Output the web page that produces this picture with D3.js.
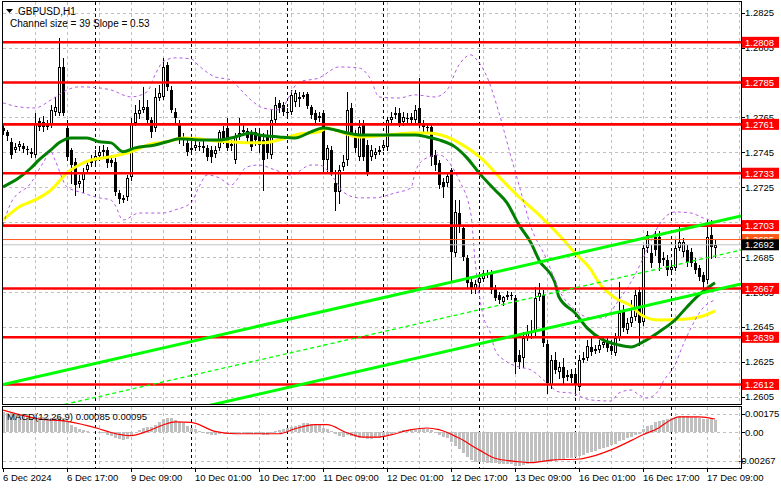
<!DOCTYPE html>
<html><head><meta charset="utf-8">
<script src="https://cdn.jsdelivr.net/npm/d3@7"></script>
<style>
html,body{margin:0;padding:0;background:#fff;}
svg{display:block;font-family:"Liberation Sans",Arial,sans-serif;}
</style></head><body>
<svg id="c" width="781" height="489"></svg>
<script>
// ---- candle data, GBPUSD H1, bar 0 = 6 Dec 2024 01:00 ----
const opens=[1.27589,1.27567,1.27510,1.27464,1.27481,1.27487,1.27469,1.27453,1.27435,1.27629,
1.27624,1.27601,1.27612,1.27682,1.27676,1.27939,1.27589,1.27464,1.27395,1.27269,
1.27292,1.27349,1.27389,1.27400,1.27429,1.27453,1.27464,1.27406,1.27395,1.27217,
1.27177,1.27194,1.27309,1.27618,1.27670,1.27693,1.27710,1.27635,1.27589,1.27761,
1.27767,1.27951,1.27807,1.27682,1.27618,1.27521,1.27504,1.27464,1.27475,1.27487,
1.27481,1.27475,1.27464,1.27441,1.27475,1.27572,1.27589,1.27487,1.27406,1.27538,
1.27567,1.27572,1.27561,1.27567,1.27549,1.27521,1.27549,1.27435,1.27635,1.27733,
1.27721,1.27682,1.27682,1.27739,1.27756,1.27773,1.27784,1.27710,1.27676,1.27659,
1.27676,1.27406,1.27464,1.27275,1.27223,1.27366,1.27406,1.27704,1.27561,1.27424,
1.27606,1.27492,1.27424,1.27435,1.27458,1.27475,1.27481,1.27635,1.27664,1.27676,
1.27624,1.27647,1.27653,1.27635,1.27704,1.27618,1.27595,1.27595,1.27435,1.27389,
1.27280,1.27275,1.27349,1.26874,1.27102,1.27016,1.26845,1.26708,1.26667,1.26702,
1.26724,1.26753,1.26759,1.26673,1.26632,1.26593,1.26621,1.26632,1.26615,1.26289,
1.26272,1.26392,1.26421,1.26421,1.26621,1.26632,1.26352,1.26117,1.26260,1.26191,
1.26220,1.26163,1.26180,1.26180,1.26106,1.26260,1.26272,1.26335,1.26318,1.26318,
1.26346,1.26364,1.26341,1.26301,1.26386,1.26535,1.26432,1.26472,1.26507,1.26650,
1.26478,1.26902,1.26874,1.26965,1.26965,1.26845,1.26833,1.26776,1.26787,1.26902,
1.26879,1.26891,1.26879,1.26816,1.26787,1.26747,1.26719,1.26977,1.26902];
const highs=[1.27612,1.27578,1.27532,1.27504,1.27515,1.27504,1.27487,1.27475,1.27676,1.27647,
1.27659,1.27635,1.27721,1.27767,1.28105,1.27991,1.27635,1.27475,1.27418,1.27320,
1.27360,1.27406,1.27435,1.27464,1.27487,1.27492,1.27481,1.27435,1.27418,1.27234,
1.27205,1.27320,1.27647,1.27721,1.27750,1.27825,1.27750,1.27653,1.27819,1.27836,
1.27991,1.27968,1.27830,1.27704,1.27635,1.27561,1.27538,1.27504,1.27521,1.27510,
1.27515,1.27492,1.27487,1.27487,1.27578,1.27601,1.27647,1.27521,1.27561,1.27647,
1.27606,1.27589,1.27578,1.27589,1.27589,1.27561,1.27578,1.27693,1.27767,1.27750,
1.27739,1.27704,1.27807,1.27807,1.27796,1.27796,1.27796,1.27721,1.27693,1.27682,
1.27693,1.27492,1.27487,1.27349,1.27377,1.27435,1.27796,1.27733,1.27578,1.27635,
1.27635,1.27521,1.27492,1.27475,1.27487,1.27515,1.27653,1.27682,1.27710,1.27704,
1.27682,1.27676,1.27676,1.27721,1.27876,1.27635,1.27618,1.27612,1.27464,1.27406,
1.27304,1.27338,1.27360,1.27177,1.27177,1.27034,1.26862,1.26730,1.26719,1.26753,
1.26776,1.26776,1.26776,1.26690,1.26650,1.26627,1.26656,1.26650,1.26632,1.26318,
1.26421,1.26461,1.26489,1.26678,1.26702,1.26661,1.26375,1.26289,1.26306,1.26249,
1.26272,1.26203,1.26209,1.26203,1.26289,1.26306,1.26375,1.26386,1.26346,1.26375,
1.26386,1.26386,1.26375,1.26415,1.26708,1.26575,1.26501,1.26604,1.26661,1.26678,
1.26919,1.26999,1.26919,1.26999,1.26999,1.26879,1.26862,1.26822,1.26948,1.27034,
1.26960,1.26919,1.26902,1.26845,1.26804,1.26764,1.27062,1.27062,1.26948];
const lows=[1.27555,1.27521,1.27418,1.27453,1.27464,1.27453,1.27441,1.27424,1.27424,1.27578,
1.27572,1.27583,1.27595,1.27664,1.27664,1.27664,1.27406,1.27275,1.27205,1.27252,
1.27223,1.27338,1.27372,1.27383,1.27406,1.27429,1.27366,1.27372,1.27205,1.27160,
1.27166,1.27177,1.27292,1.27606,1.27647,1.27682,1.27624,1.27538,1.27572,1.27750,
1.27756,1.27807,1.27682,1.27624,1.27504,1.27492,1.27435,1.27447,1.27464,1.27464,
1.27453,1.27406,1.27395,1.27424,1.27464,1.27504,1.27464,1.27464,1.27389,1.27527,
1.27549,1.27515,1.27464,1.27492,1.27453,1.27234,1.27418,1.27418,1.27624,1.27682,
1.27664,1.27659,1.27670,1.27716,1.27716,1.27761,1.27704,1.27647,1.27618,1.27629,
1.27332,1.27332,1.27320,1.27120,1.27160,1.27349,1.27377,1.27544,1.27453,1.27406,
1.27406,1.27320,1.27406,1.27418,1.27441,1.27464,1.27464,1.27612,1.27647,1.27601,
1.27606,1.27624,1.27618,1.27624,1.27595,1.27572,1.27567,1.27377,1.27349,1.27246,
1.27194,1.27257,1.26708,1.26856,1.26994,1.26833,1.26678,1.26644,1.26644,1.26673,
1.26713,1.26736,1.26644,1.26604,1.26587,1.26575,1.26610,1.26610,1.26186,1.26214,
1.26220,1.26375,1.26386,1.26404,1.26604,1.26341,1.26071,1.26100,1.26186,1.26157,
1.26128,1.26146,1.26134,1.26060,1.26088,1.26249,1.26260,1.26289,1.26301,1.26306,
1.26335,1.26312,1.26295,1.26289,1.26375,1.26427,1.26415,1.26455,1.26489,1.26346,
1.26461,1.26879,1.26793,1.26862,1.26776,1.26805,1.26747,1.26759,1.26776,1.26891,
1.26856,1.26799,1.26799,1.26759,1.26719,1.26650,1.26702,1.26845,1.26850];
const closes=[1.27572,1.27544,1.27435,1.27481,1.27498,1.27469,1.27464,1.27441,1.27618,1.27595,
1.27595,1.27606,1.27693,1.27710,1.27939,1.27676,1.27424,1.27377,1.27263,1.27286,
1.27338,1.27377,1.27400,1.27429,1.27453,1.27464,1.27389,1.27389,1.27223,1.27183,
1.27189,1.27304,1.27618,1.27676,1.27693,1.27710,1.27635,1.27567,1.27767,1.27790,
1.27939,1.27825,1.27693,1.27647,1.27521,1.27532,1.27453,1.27475,1.27492,1.27481,
1.27487,1.27424,1.27424,1.27464,1.27567,1.27521,1.27475,1.27498,1.27538,1.27561,
1.27578,1.27532,1.27481,1.27521,1.27492,1.27406,1.27447,1.27635,1.27721,1.27704,
1.27682,1.27676,1.27779,1.27790,1.27767,1.27779,1.27716,1.27664,1.27635,1.27647,
1.27406,1.27475,1.27332,1.27223,1.27349,1.27395,1.27693,1.27561,1.27475,1.27595,
1.27424,1.27332,1.27464,1.27453,1.27464,1.27492,1.27635,1.27653,1.27676,1.27618,
1.27653,1.27641,1.27635,1.27693,1.27618,1.27595,1.27589,1.27424,1.27377,1.27263,
1.27252,1.27315,1.26880,1.27108,1.27022,1.26850,1.26702,1.26673,1.26696,1.26730,
1.26759,1.26759,1.26661,1.26615,1.26604,1.26621,1.26632,1.26627,1.26249,1.26249,
1.26386,1.26421,1.26415,1.26615,1.26644,1.26358,1.26128,1.26260,1.26203,1.26220,
1.26157,1.26174,1.26157,1.26117,1.26260,1.26272,1.26341,1.26306,1.26323,1.26346,
1.26364,1.26329,1.26312,1.26386,1.26530,1.26444,1.26472,1.26507,1.26632,1.26472,
1.26902,1.26977,1.26816,1.26891,1.26816,1.26833,1.26776,1.26793,1.26902,1.26937,
1.26937,1.26822,1.26816,1.26776,1.26736,1.26707,1.26965,1.26908,1.26919];

// ---- moving averages (bar index, price) ----
const yellowIdx=[0,4,8,12,16,19,22,27,32,37,41,45,49,53,57,62,65,69,74,79,81,85,89,94,102,106,111,114,120,124,129,134,139,143,147,149,153,157,160,164,171,175,178];
const yellowVal=[1.27062,1.27137,1.27177,1.27234,1.27332,1.27377,1.27406,1.27424,1.27453,1.27498,1.27510,1.27532,1.27527,1.27515,1.27510,1.27504,1.27504,1.27521,1.27555,1.27567,1.27589,1.27561,1.27538,1.27544,1.27561,1.27561,1.27538,1.27504,1.27406,1.27309,1.27194,1.27091,1.26976,1.26873,1.26776,1.26702,1.26616,1.26570,1.26512,1.26489,1.26495,1.26512,1.26541];
const greenIdx=[0,4,7,9,12,14,17,21,24,27,30,33,38,41,44,49,54,58,62,64,69,73,77,80,83,86,89,96,103,106,109,113,116,119,123,126,129,132,134,138,139,143,146,150,154,157,160,164,168,171,174,178];
const greenVal=[1.27252,1.27304,1.27360,1.27406,1.27464,1.27504,1.27532,1.27532,1.27510,1.27504,1.27453,1.27475,1.27492,1.27510,1.27527,1.27521,1.27521,1.27538,1.27561,1.27549,1.27538,1.27532,1.27567,1.27589,1.27578,1.27561,1.27549,1.27549,1.27549,1.27538,1.27521,1.27481,1.27418,1.27332,1.27234,1.27160,1.27034,1.26931,1.26833,1.26702,1.26621,1.26530,1.26444,1.26375,1.26346,1.26335,1.26364,1.26421,1.26489,1.26564,1.26633,1.26702];
// ---- envelope bands (dashed violet) ----
const upIdx=[0,4,8,12,16,19,24,27,32,36,38,40,43,47,49,53,57,59,62,65,69,74,79,84,89,92,94,99,103,108,111,114,117,118,121,124,127,129,132,136,139,143,147,150,154,158,161,164,168,172,175,178];
const upVal=[1.27733,1.27710,1.27704,1.27750,1.27807,1.27825,1.27819,1.27807,1.27767,1.27796,1.27893,1.27968,1.27991,1.27985,1.27945,1.27882,1.27865,1.27819,1.27750,1.27704,1.27693,1.27853,1.27876,1.27939,1.27933,1.27865,1.27767,1.27761,1.27779,1.27767,1.27807,1.27951,1.28008,1.27991,1.27882,1.27676,1.27424,1.27263,1.27022,1.26833,1.26661,1.26547,1.26501,1.26501,1.26604,1.26747,1.26891,1.27034,1.27108,1.27102,1.27074,1.27051];
const loIdx=[0,2,7,10,12,13,16,20,24,27,28,30,34,40,43,47,49,51,54,57,61,64,68,72,77,79,83,85,89,93,98,102,103,105,109,112,114,117,118,119,120,122,123,126,129,132,136,139,142,147,152,154,157,159,161,164,165,168,170,172,175,178];
const loVal=[1.27034,1.27160,1.27275,1.27389,1.27453,1.27406,1.27252,1.27217,1.27189,1.27177,1.27148,1.27062,1.27102,1.27102,1.27120,1.27160,1.27252,1.27320,1.27304,1.27263,1.27366,1.27377,1.27349,1.27320,1.27377,1.27377,1.27292,1.27223,1.27189,1.27189,1.27217,1.27246,1.27332,1.27406,1.27435,1.27377,1.27292,1.27091,1.26833,1.26644,1.26518,1.26404,1.26318,1.26249,1.26220,1.26203,1.26128,1.26077,1.26071,1.26031,1.26025,1.26071,1.26088,1.26060,1.26042,1.26088,1.26134,1.26232,1.26346,1.26444,1.26558,1.26604];

// ---- horizontal levels & channel ----
const levels=[1.2808,1.2785,1.2761,1.2733,1.2703,1.2667,1.2639,1.2612];
const levelLabels=["1.2808","1.2785","1.2761","1.2733","1.2703","1.2667","1.2639","1.2612"];
const askLine=1.2695, bidLine=1.2692;
const chanIdx=[0,184.5];
const chanUpper=[1.26120,1.27085];
const chanMid=[1.25925,1.26890];
const chanLower=[1.25730,1.26695];

// ---- axes ----
const priceTicks=[1.2825,1.2805,1.2785,1.2765,1.2745,1.2725,1.2705,1.2685,1.2665,1.2645,1.2625,1.2605];
const priceTickLabels=["1.2825","1.2805","1.2785","1.2765","1.2745","1.2725","1.2705","1.2685","1.2665","1.2645","1.2625","1.2605"];
const timeIdx=[0,16,32,48,64,80,96,112,128,144,160,176];
const timeLabels=["6 Dec 2024","6 Dec 17:00","9 Dec 09:00","10 Dec 01:00","10 Dec 17:00","11 Dec 09:00","12 Dec 01:00","12 Dec 17:00","13 Dec 09:00","16 Dec 01:00","16 Dec 17:00","17 Dec 09:00"];
const daySep=[23,47,71,95,119,143,167];

// ---- MACD(12,26,9) ----
const macdMain=[0.00190,0.00185,0.00180,0.00172,0.00165,0.00160,0.00155,0.00150,0.00148,0.00148,
0.00145,0.00140,0.00140,0.00140,0.00150,0.00135,0.00110,0.00075,0.00050,0.00035,
0.00025,0.00015,0.00008,0.00005,0.00000,-0.00005,-0.00020,-0.00035,-0.00050,-0.00062,
-0.00070,-0.00065,-0.00030,0.00005,0.00025,0.00045,0.00050,0.00055,0.00075,0.00095,
0.00125,0.00140,0.00135,0.00120,0.00100,0.00085,0.00060,0.00045,0.00030,0.00015,
0.00000,-0.00010,-0.00020,-0.00020,-0.00010,-0.00008,-0.00012,-0.00015,-0.00012,-0.00008,
-0.00005,-0.00010,-0.00015,-0.00015,-0.00018,-0.00025,-0.00020,-0.00005,0.00015,0.00025,
0.00035,0.00040,0.00055,0.00065,0.00075,0.00085,0.00085,0.00080,0.00075,0.00070,
0.00045,0.00030,0.00010,-0.00015,-0.00030,-0.00040,-0.00020,-0.00030,-0.00045,-0.00050,
-0.00055,-0.00065,-0.00060,-0.00055,-0.00050,-0.00040,-0.00025,-0.00010,0.00005,0.00015,
0.00020,0.00025,0.00030,0.00035,0.00040,0.00040,0.00035,0.00020,0.00000,-0.00020,
-0.00040,-0.00050,-0.00090,-0.00130,-0.00160,-0.00190,-0.00230,-0.00260,-0.00278,-0.00280,
-0.00282,-0.00284,-0.00286,-0.00290,-0.00295,-0.00298,-0.00300,-0.00302,-0.00315,-0.00318,
-0.00310,-0.00300,-0.00290,-0.00275,-0.00265,-0.00270,-0.00280,-0.00272,-0.00265,-0.00258,
-0.00252,-0.00245,-0.00238,-0.00232,-0.00222,-0.00212,-0.00198,-0.00186,-0.00172,-0.00160,
-0.00148,-0.00135,-0.00120,-0.00105,-0.00085,-0.00070,-0.00055,-0.00040,-0.00022,-0.00010,
0.00030,0.00060,0.00075,0.00095,0.00110,0.00120,0.00125,0.00135,0.00145,0.00155,
0.00158,0.00155,0.00150,0.00145,0.00135,0.00125,0.00130,0.00128,0.00120];
const sigIdx=[0,9,16,24,27,32,36,40,43,47,53,58,69,73,78,81,86,90,94,97,102,106,109,114,119,123,129,132,137,144,147,152,160,164,167,169,174,178];
const sigVal=[0.00210,0.00127,0.00105,0.00035,0.00000,-0.00030,0.00010,0.00070,0.00100,0.00095,0.00010,-0.00012,-0.00012,0.00035,0.00073,0.00073,-0.00003,-0.00044,-0.00044,-0.00022,0.00026,0.00042,0.00026,-0.00053,-0.00164,-0.00243,-0.00276,-0.00285,-0.00260,-0.00250,-0.00228,-0.00164,-0.00022,0.00045,0.00120,0.00146,0.00146,0.00127];
const macdTicks=[0.00175,0,-0.00267];
const macdTickLabels=["0.00175","0.00","-0.00267"];

// ================= drawing =================
const svg=d3.select("#c");
const L=3,R=741,MT=2,MB=404.5,ST=407,SB=468;
const x=d3.scaleLinear().domain([0,184.5]).range([L,R]);
const y=d3.scaleLinear().domain([1.26005,1.28311]).range([MB,MT]);
const ym=d3.scaleLinear().domain([-0.00335,0.00240]).range([SB,ST]);
const px=v=>Math.round(v)+0.5;

const defs=svg.append("defs");
defs.append("clipPath").attr("id","cm").append("rect").attr("x",L).attr("y",MT).attr("width",R-L).attr("height",MB-MT);
defs.append("clipPath").attr("id","cs").append("rect").attr("x",L).attr("y",ST).attr("width",R-L).attr("height",SB-ST);

const gm=svg.append("g").attr("clip-path","url(#cm)");
const gs=svg.append("g").attr("clip-path","url(#cs)");

// grids
const vgrid=d3.range(8,185,8);
[gm,gs].forEach((g,k)=>{
  const t=k?ST:MT,b=k?SB:MB;
  g.selectAll(".vg").data(vgrid).enter().append("line")
   .attr("x1",d=>px(x(d))).attr("x2",d=>px(x(d))).attr("y1",t).attr("y2",b)
   .attr("stroke","#c0c0c0").attr("stroke-dasharray","3,3");
});
gm.selectAll(".hg").data(priceTicks).enter().append("line")
  .attr("x1",L).attr("x2",R).attr("y1",d=>px(y(d))).attr("y2",d=>px(y(d)))
  .attr("stroke","#c0c0c0").attr("stroke-dasharray","3,3");
gs.selectAll(".hg").data(macdTicks).enter().append("line")
  .attr("x1",L).attr("x2",R).attr("y1",d=>px(ym(d))).attr("y2",d=>px(ym(d)))
  .attr("stroke","#c0c0c0").attr("stroke-dasharray","3,3");
// day separators
[gm,gs].forEach((g,k)=>{
  const t=k?ST:MT,b=k?SB:MB;
  g.selectAll(".ds").data(daySep).enter().append("line")
   .attr("x1",d=>px(x(d))).attr("x2",d=>px(x(d))).attr("y1",t).attr("y2",b)
   .attr("stroke","#000").attr("stroke-dasharray","3,3");
});

// candles
const bars=d3.range(opens.length);
gm.selectAll(".wk").data(bars).enter().append("line")
  .attr("x1",i=>x(i)+0.5).attr("x2",i=>x(i)+0.5)
  .attr("y1",i=>Math.round(y(highs[i]))).attr("y2",i=>Math.round(y(lows[i]))+1)
  .attr("stroke","#000");
gm.selectAll(".bd").data(bars).enter().append("rect")
  .attr("shape-rendering","crispEdges")
  .attr("x",i=>closes[i]>=opens[i]?x(i)-0.5:x(i)-1)
  .attr("width",i=>closes[i]>=opens[i]?2:3)
  .attr("y",i=>{const t=Math.round(y(Math.max(opens[i],closes[i])));return closes[i]>=opens[i]?t+0.5:t;})
  .attr("height",i=>Math.max(1,Math.round(Math.abs(y(opens[i])-y(closes[i]))) - (closes[i]>=opens[i]?1:0)))
  .attr("fill",i=>closes[i]>=opens[i]?"#fff":"#000")
  .attr("stroke",i=>closes[i]>=opens[i]?"#000":"none");

// indicators
const curve=(idx,val,yy)=>d3.line().x((d,k)=>x(idx[k])).y((d,k)=>yy(val[k])).curve(d3.curveMonotoneX)(val);
gm.append("path").attr("d",curve(yellowIdx,yellowVal,y)).attr("fill","none").attr("stroke","#ffff00").attr("stroke-width",3);
gm.append("path").attr("d",curve(greenIdx,greenVal,y)).attr("fill","none").attr("stroke","#008000").attr("stroke-width",3);
gm.append("path").attr("d",curve(upIdx,upVal,y)).attr("fill","none").attr("stroke","#b45ae6").attr("stroke-dasharray","3,3");
gm.append("path").attr("d",curve(loIdx,loVal,y)).attr("fill","none").attr("stroke","#b45ae6").attr("stroke-dasharray","3,3");

// horizontal levels
gm.append("line").attr("x1",L).attr("x2",R).attr("y1",y(bidLine)).attr("y2",y(bidLine)).attr("stroke","#c0c0c0");
gm.append("line").attr("x1",L).attr("x2",R).attr("y1",y(askLine)).attr("y2",y(askLine)).attr("stroke","#ff5a1a");
gm.selectAll(".lv").data(levels).enter().append("line")
  .attr("x1",L).attr("x2",R).attr("y1",d=>y(d)).attr("y2",d=>y(d))
  .attr("stroke","#ff0000").attr("stroke-width",2.6);

// channel
const chan=(vals)=>d3.line().x((d,k)=>x(chanIdx[k])).y(d=>y(d))(vals);
gm.append("path").attr("d",chan(chanUpper)).attr("stroke","#00ff00").attr("stroke-width",3).attr("fill","none");
gm.append("path").attr("d",chan(chanLower)).attr("stroke","#00ff00").attr("stroke-width",3).attr("fill","none");
gm.append("path").attr("d",chan(chanMid)).attr("stroke","#00ff00").attr("stroke-width",1.3).attr("stroke-dasharray","4,3").attr("fill","none");

// MACD
gs.selectAll(".hb").data(bars).enter().append("rect")
  .attr("shape-rendering","crispEdges")
  .attr("x",i=>x(i)-1).attr("width",3)
  .attr("y",i=>Math.min(ym(macdMain[i]),ym(0)))
  .attr("height",i=>Math.max(0.5,Math.abs(ym(macdMain[i])-ym(0))))
  .attr("fill","#c0c0c0");
gs.append("path").attr("d",curve(sigIdx,sigVal,ym)).attr("fill","none").attr("stroke","#ff0000").attr("stroke-width",1.2);

// frames
const fr=svg.append("g").attr("fill","none").attr("stroke","#000").attr("shape-rendering","crispEdges");
fr.append("rect").attr("x",2.5).attr("y",1.5).attr("width",R-2.5).attr("height",MB-1.5);
fr.append("rect").attr("x",2.5).attr("y",ST-0.5).attr("width",R-2.5).attr("height",SB-ST+0.5);

// right axis labels
const ax=svg.append("g").attr("font-size","9.5px").attr("fill","#000");
ax.selectAll(".pt").data(priceTicks).enter().append("line")
  .attr("x1",R).attr("x2",R+4).attr("y1",d=>px(y(d))).attr("y2",d=>px(y(d))).attr("stroke","#000");
ax.selectAll(".pl").data(priceTicks).enter().append("text")
  .attr("x",R+4).attr("y",d=>y(d)+3.6).text((d,k)=>priceTickLabels[k]);
ax.selectAll(".mt").data(macdTicks).enter().append("line")
  .attr("x1",R).attr("x2",R+4).attr("y1",d=>px(ym(d))).attr("y2",d=>px(ym(d))).attr("stroke","#000");
ax.selectAll(".ml").data(macdTicks).enter().append("text")
  .attr("x",(d,k)=>k==2?R-3:R+4).attr("y",d=>ym(d)+3.6).text((d,k)=>macdTickLabels[k]);

// level tags
const tag=(v,label,bg,fg)=>{
  const g=svg.append("g");
  g.append("rect").attr("x",R+1).attr("y",y(v)-5.5).attr("width",37).attr("height",11).attr("fill",bg);
  g.append("text").attr("x",R+4).attr("y",y(v)+3.6).attr("font-size","9.5px").attr("fill",fg).text(label);
};
tag(askLine,"1.2695","#ff5a1a","#fff");
tag(bidLine,"1.2692","#000","#fff");
levels.forEach((v,k)=>tag(v,levelLabels[k],"#ff0000","#fff"));

// time axis
const tx=svg.append("g").attr("font-size","9.5px").attr("fill","#000");
tx.selectAll(".tt").data(timeIdx).enter().append("line")
  .attr("x1",d=>px(x(d))).attr("x2",d=>px(x(d))).attr("y1",SB).attr("y2",SB+4).attr("stroke","#000");
tx.selectAll(".tl").data(timeIdx).enter().append("text")
  .attr("x",d=>x(d)).attr("y",481).text((d,k)=>timeLabels[k]);

// titles
svg.append("path").attr("d","M6,9 L13,9 L9.5,13 Z").attr("fill","#000");
svg.append("text").attr("x",18).attr("y",15).attr("font-size","10px").text("GBPUSD,H1");
svg.append("text").attr("x",10).attr("y",27).attr("font-size","10px").text("Channel size = 39 Slope = 0.53");
svg.append("text").attr("x",7).attr("y",420).attr("font-size","9.5px").text("MACD(12,26,9) 0.00085 0.00095");
</script>
</body></html>
